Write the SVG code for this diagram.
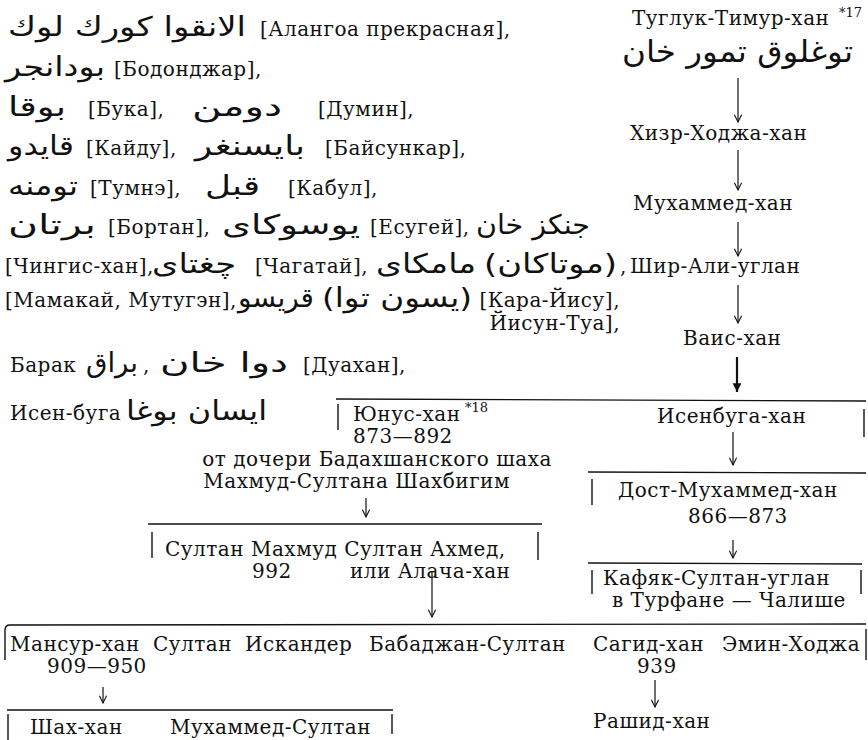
<svg xmlns="http://www.w3.org/2000/svg" width="868" height="740" viewBox="0 0 868 740">
<style>
text{font-family:"DejaVu Serif",serif;font-size:20px;letter-spacing:0.5px;fill:#111}
.ar{font-family:"DejaVu Sans",sans-serif;font-size:27px;letter-spacing:0}
.arb{font-family:"DejaVu Sans",sans-serif;font-size:30px;letter-spacing:0}
.sup{font-size:13px;letter-spacing:0}
.ln{stroke:#111;stroke-width:1.4;fill:none}
.arr{stroke:#111;stroke-width:1.2;fill:none;marker-end:url(#ah)}
.arrb{stroke:#111;stroke-width:2.2;fill:none;marker-end:url(#ahb)}
</style>
<defs>
<marker id="ah" viewBox="0 0 10 10" refX="9" refY="5" markerWidth="9" markerHeight="9" markerUnits="userSpaceOnUse" orient="auto"><path d="M1,1 L9,5 L1,9" fill="none" stroke="#111" stroke-width="1.2"/></marker>
<marker id="ahb" viewBox="0 0 10 10" refX="9" refY="5" markerWidth="11" markerHeight="11" markerUnits="userSpaceOnUse" orient="auto"><path d="M1,1 L9,5 L1,9 Z" fill="#111"/></marker>
</defs>

<g id="genealogy-list">
<text class="ar" x="8" y="36" textLength="238" lengthAdjust="spacingAndGlyphs">الانقوا كورك لوك</text>
<text x="260" y="36">[Алангоа прекрасная],</text>
<text class="ar" x="5" y="76" textLength="100" lengthAdjust="spacingAndGlyphs">بودانجر</text>
<text x="114" y="76">[Бодонджар],</text>
<text class="ar" x="8" y="116" textLength="58" lengthAdjust="spacingAndGlyphs">بوقا</text>
<text x="88" y="116">[Бука],</text>
<text class="ar" x="192" y="116" textLength="90" lengthAdjust="spacingAndGlyphs">دومن</text>
<text x="318" y="116">[Думин],</text>
<text class="ar" x="8" y="155" textLength="66" lengthAdjust="spacingAndGlyphs">قايدو</text>
<text x="86" y="155">[Кайду],</text>
<text class="ar" x="195" y="155" textLength="110" lengthAdjust="spacingAndGlyphs">بايسنغر</text>
<text x="325" y="155">[Байсункар],</text>
<text class="ar" x="8" y="195" textLength="70" lengthAdjust="spacingAndGlyphs">تومنه</text>
<text x="90" y="195">[Тумнэ],</text>
<text class="ar" x="205" y="195" textLength="55" lengthAdjust="spacingAndGlyphs">قبل</text>
<text x="288" y="195">[Кабул],</text>
<text class="ar" x="8" y="234" textLength="88" lengthAdjust="spacingAndGlyphs">برتان</text>
<text x="108" y="234">[Бортан],</text>
<text class="ar" x="222" y="234" textLength="138" lengthAdjust="spacingAndGlyphs">يوسوكاى</text>
<text x="370" y="234">[Есугей],</text>
<text class="ar" x="476" y="234" textLength="114" lengthAdjust="spacingAndGlyphs">جنكز خان</text>
<text x="5" y="273">[Чингис-хан],</text>
<text class="ar" x="152" y="273" textLength="84" lengthAdjust="spacingAndGlyphs">چغتاى</text>
<text x="255" y="273">[Чагатай],</text>
<text class="ar" x="376" y="273" textLength="100" lengthAdjust="spacingAndGlyphs">مامكاى</text>
<text class="ar" x="484" y="273" textLength="133" lengthAdjust="spacingAndGlyphs">(موتاكان)</text>
<text x="5" y="307">[Мамакай, Мутугэн],</text>
<text class="ar" x="238" y="307" textLength="76" lengthAdjust="spacingAndGlyphs">قريسو</text>
<text class="ar" x="322" y="307" textLength="150" lengthAdjust="spacingAndGlyphs">(يسون توا)</text>
<text x="620" y="307" text-anchor="end">[Кара-Йису],</text>
<text x="620" y="330" text-anchor="end">Йисун-Туа],</text>
<text x="10" y="372">Барак</text>
<text class="ar" x="86" y="372" textLength="52" lengthAdjust="spacingAndGlyphs">براق</text>
<text x="143" y="372">,</text>
<text class="ar" x="160" y="372" textLength="128" lengthAdjust="spacingAndGlyphs">دوا خان</text>
<text x="303" y="372">[Дуахан],</text>
<text x="10" y="420">Исен-буга</text>
<text class="ar" x="126" y="420" textLength="141" lengthAdjust="spacingAndGlyphs">ايسان بوغا</text>
</g>

<g id="n-tugluk">
<text x="632" y="25">Туглук-Тимур-хан</text>
<text class="sup" x="839" y="17">*17</text>
<text class="arb" x="622" y="62" textLength="231" lengthAdjust="spacingAndGlyphs">توغلوق تمور خان</text>
</g>
<g id="n-khizr"><text x="630" y="140">Хизр-Ходжа-хан</text></g>
<g id="n-muhammed"><text x="633" y="210">Мухаммед-хан</text></g>
<g id="n-shir-ali"><text x="620" y="273">,</text><text x="630" y="273">Шир-Али-углан</text></g>
<g id="n-vais"><text x="683" y="345">Ваис-хан</text></g>

<g id="n-yunus">
<path class="ln" d="M336,399 L866,401"/>
<path class="ln" d="M338,404 V430"/>
<text x="353" y="421">Юнус-хан</text>
<text class="sup" x="465" y="412">*18</text>
<text x="353" y="443">873—892</text>
<text x="552" y="466" text-anchor="end">от дочери Бадахшанского шаха</text>
<text x="510" y="488" text-anchor="end">Махмуд-Султана Шахбигим</text>
</g>
<g id="n-isenbuga">
<path class="ln" d="M864,409 V437"/>
<text x="657" y="423">Исенбуга-хан</text>
</g>
<g id="n-dost">
<path class="ln" d="M588,472 L866,473"/>
<path class="ln" d="M592,479 V505"/>
<text x="618" y="497">Дост-Мухаммед-хан</text>
<text x="688" y="523">866—873</text>
</g>
<g id="n-kafyak">
<path class="ln" d="M588,563 L862,564"/>
<path class="ln" d="M592,570 V594"/>
<path class="ln" d="M861,570 V594"/>
<text x="603" y="585">Кафяк-Султан-углан</text>
<text x="612" y="607">в Турфане — Чалише</text>
</g>
<g id="n-sultan-mahmud">
<path class="ln" d="M148,524 L542,524"/>
<path class="ln" d="M152,532 V558"/>
<path class="ln" d="M538,532 V560"/>
<text x="165" y="556">Султан Махмуд Султан Ахмед,</text>
<text x="252" y="578">992</text>
<text x="350" y="578">или Алача-хан</text>
</g>
<g id="n-sons">
<path class="ln" d="M5,660 V630 Q5,625 10,625 L866,624"/>
<path class="ln" d="M866,629 V660"/>
<text x="10" y="651">Мансур-хан</text>
<text x="153" y="651">Султан</text>
<text x="245" y="651">Искандер</text>
<text x="369" y="651">Бабаджан-Султан</text>
<text x="593" y="651">Сагид-хан</text>
<text x="722" y="651">Эмин-Ходжа</text>
<text x="47" y="673">909—950</text>
<text x="637" y="673">939</text>
</g>
<g id="n-shah">
<path class="ln" d="M7,710 L393,710"/>
<path class="ln" d="M8,714 V740"/>
<path class="ln" d="M392,714 V734"/>
<text x="30" y="734">Шах-хан</text>
<text x="170" y="734">Мухаммед-Султан</text>
</g>
<g id="n-rashid"><text x="593" y="728">Рашид-хан</text></g>

<g id="connectors">
<path class="arr" d="M738,78 V122"/>
<path class="arr" d="M738,150 V190"/>
<path class="arr" d="M738,222 V256"/>
<path class="arr" d="M738,285 V323"/>
<path class="arrb" d="M737,357 V392"/>
<path class="arr" d="M733,432 V465"/>
<path class="arr" d="M733,540 V558"/>
<path class="arr" d="M366,498 V517"/>
<path class="arr" d="M432,572 V617"/>
<path class="arr" d="M103,687 V703"/>
<path class="arr" d="M655,680 V707"/>
</g>
</svg>
